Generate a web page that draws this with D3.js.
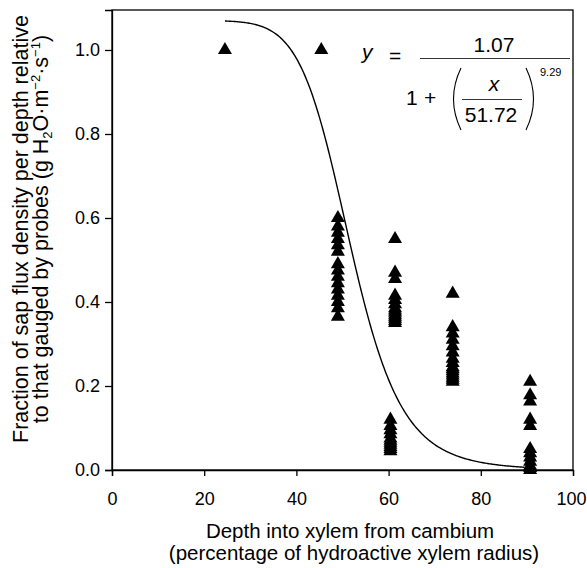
<!DOCTYPE html>
<html><head><meta charset="utf-8">
<script src="https://cdn.jsdelivr.net/npm/d3@7"></script>
<style>body{margin:0;background:#fff}svg{display:block}text{font-family:"Liberation Sans",Arial,Helvetica,sans-serif;fill:#000}</style>
</head><body>
<script>
// Data (depth %, fraction)
const depths = [24.5, 45.4, 49.0, 60.4, 61.4, 73.9, 90.7];
const fractions = [
  [1.0],
  [1.0],
  [0.60, 0.58, 0.565, 0.55, 0.535, 0.52, 0.49, 0.475, 0.46, 0.445, 0.43, 0.415, 0.40, 0.385, 0.365],
  [0.12, 0.105, 0.095, 0.085, 0.075, 0.07, 0.065, 0.06, 0.055, 0.05, 0.045],
  [0.55, 0.47, 0.455, 0.415, 0.405, 0.395, 0.385, 0.38, 0.375, 0.37, 0.365, 0.36, 0.355, 0.35],
  [0.42, 0.34, 0.325, 0.31, 0.295, 0.28, 0.265, 0.255, 0.245, 0.24, 0.235, 0.23, 0.225, 0.22, 0.215, 0.21],
  [0.21, 0.178, 0.163, 0.12, 0.105, 0.05, 0.04, 0.03, 0.02, 0.01, 0.005, 0.0]
];
const xTicks = [0, 20, 40, 60, 80, 100];
const yTicks = [0.0, 0.2, 0.4, 0.6, 0.8, 1.0];
// Fitted model parameters (from printed equation)
const fitA = 1.07, fitX0 = 51.72, fitB = 9.29;
const fitRange = [24.5, 89.5];

const W = 587, H = 568;
const svg = d3.select("body").append("svg").attr("width", W).attr("height", H);
const x = d3.scaleLinear().domain([0, 100]).range([112, 573]);
const y = d3.scaleLinear().domain([0, 1.0952]).range([470, 10]);

// frame
svg.append("rect").attr("x", 112).attr("y", 10).attr("width", 461).attr("height", 460)
  .attr("fill", "none").attr("stroke", "#000").attr("stroke-width", 1.3);

const xAxis = svg.append("g").attr("transform", "translate(0,470)")
  .call(d3.axisBottom(x).tickValues(xTicks).tickSize(6).tickPadding(16).tickFormat(d3.format("d")));
const yAxis = svg.append("g").attr("transform", "translate(112,0)")
  .call(d3.axisLeft(y).tickValues(yTicks).tickSize(7).tickPadding(5).tickFormat(d3.format(".1f")));
[xAxis, yAxis].forEach(g => {
  g.select(".domain").attr("stroke-width", 1.3);
  g.selectAll(".tick line").attr("stroke-width", 1.3);
  g.selectAll("text").attr("font-size", 18).attr("font-family", "Liberation Sans, Arial, sans-serif").attr("fill", "#000");
});
xAxis.selectAll(".tick text").filter(d => d === 100).attr("dx", -2);

// fit curve
const curvePts = d3.range(fitRange[0], fitRange[1] + 0.001, 0.25).map(d => [d, fitA / (1 + Math.pow(d / fitX0, fitB))]);
svg.append("path").datum(curvePts)
  .attr("d", d3.line().x(d => x(d[0])).y(d => y(d[1])))
  .attr("fill", "none").attr("stroke", "#000").attr("stroke-width", 1.4);

// points
const pts = [];
depths.forEach((dx, i) => fractions[i].forEach(v => pts.push([dx, v])));
const tri = d3.symbol().type(d3.symbolTriangle).size(85);
svg.append("g").selectAll("path").data(pts).join("path")
  .attr("d", tri).attr("transform", d => `translate(${x(d[0])},${y(d[1])})`).attr("fill", "#000");

// axis titles
svg.append("text").attr("x", 350).attr("y", 538).attr("text-anchor", "middle").attr("font-size", 20.5)
  .text("Depth into xylem from cambium");
svg.append("text").attr("x", 354).attr("y", 560).attr("text-anchor", "middle").attr("font-size", 20.5)
  .text("(percentage of hydroactive xylem radius)");

const yt = svg.append("g").attr("transform", "translate(0,229) rotate(-90)");
yt.append("text").attr("x", 0).attr("y", 28).attr("text-anchor", "middle").attr("font-size", 21.5)
  .text("Fraction of sap flux density per depth relative");
const l2 = yt.append("text").attr("x", 0).attr("y", 48).attr("text-anchor", "middle").attr("font-size", 21.5);
l2.append("tspan").text("to that gauged by probes (g H");
l2.append("tspan").attr("font-size", 13).attr("dy", 4).text("2");
l2.append("tspan").attr("dy", -4).text("O·m");
l2.append("tspan").attr("font-size", 13).attr("dy", -8).text("−2");
l2.append("tspan").attr("dy", 8).text("·s");
l2.append("tspan").attr("font-size", 13).attr("dy", -8).text("−1");
l2.append("tspan").attr("dy", 8).text(")");

// equation
const eq = svg.append("g");
eq.append("text").attr("x", 362).attr("y", 59).attr("font-size", 21).attr("font-style", "italic").text("y");
eq.append("text").attr("x", 389).attr("y", 63).attr("font-size", 21).text("=");
eq.append("line").attr("x1", 420).attr("x2", 570).attr("y1", 58.5).attr("y2", 58.5).attr("stroke", "#000").attr("stroke-width", 0.8);
eq.append("text").attr("x", 494).attr("y", 52).attr("text-anchor", "middle").attr("font-size", 21).text("1.07");
eq.append("text").attr("x", 406).attr("y", 105).attr("font-size", 21).text("1");
eq.append("text").attr("x", 424).attr("y", 105).attr("font-size", 21).text("+");
eq.append("text").attr("x", 494).attr("y", 91).attr("text-anchor", "middle").attr("font-size", 21).attr("font-style", "italic").text("x");
eq.append("line").attr("x1", 462).attr("x2", 522).attr("y1", 99.5).attr("y2", 99.5).attr("stroke", "#000").attr("stroke-width", 0.8);
eq.append("text").attr("x", 491).attr("y", 122).attr("text-anchor", "middle").attr("font-size", 21).text("51.72");
eq.append("path").attr("d", "M461,68 Q446,99 461,130").attr("fill", "none").attr("stroke", "#000").attr("stroke-width", 1.1);
eq.append("path").attr("d", "M526,68 Q541,99 526,130").attr("fill", "none").attr("stroke", "#000").attr("stroke-width", 1.1);
eq.append("text").attr("x", 540).attr("y", 76).attr("font-size", 11).text("9.29");
</script>
</body></html>
